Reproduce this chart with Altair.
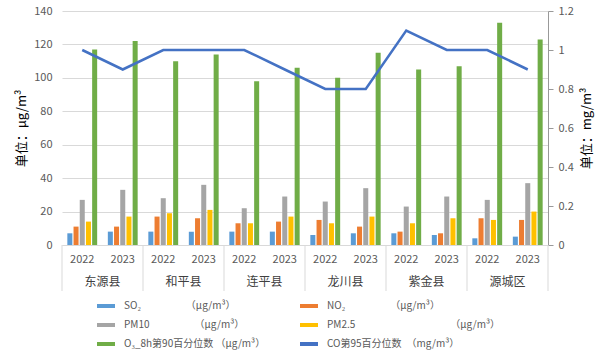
import altair as alt
import pandas as pd

counties = ["东源县", "和平县", "连平县", "龙川县", "紫金县", "源城区"]
years = ["2022", "2023"]
so2 = [7, 8, 8, 8, 8, 8, 6, 7, 7, 6, 4, 5]
no2 = [11, 11, 17, 16, 13, 14, 15, 11, 8, 7, 16, 15]
pm10 = [27, 33, 28, 36, 22, 29, 26, 34, 23, 29, 27, 37]
pm25 = [14, 17, 19, 21, 13, 17, 13, 17, 13, 16, 15, 20]
o3 = [117, 122, 110, 114, 98, 106, 100, 115, 105, 107, 133, 123]
co = [1.0, 0.9, 1.0, 1.0, 1.0, 0.9, 0.8, 0.8, 1.1, 1.0, 1.0, 0.9]
series_names = ["SO₂", "NO₂", "PM10", "PM2.5", "O₃_8h第90百分位数", "CO第95百分位数"]
colors = ["#5B9BD5", "#ED7D31", "#A5A5A5", "#FFC000", "#70AD47", "#4472C4"]
legend_labels = {
    "SO₂": "SO₂\u3000\u3000\u3000\u3000\u2002（μg/m³）",
    "NO₂": "NO₂\u3000\u3000\u3000\u3000\u2002（μg/m³）",
    "PM10": "PM10\u3000\u3000\u3000\u3000\u2002（μg/m³）",
    "PM2.5": "PM2.5\u3000\u3000\u3000\u3000\u3000\u3000\u3000\u3000\u3000\u2002（μg/m³）",
    "O₃_8h第90百分位数": "O₃_8h第90百分位数 （μg/m³）",
    "CO第95百分位数": "CO第95百分位数\u3000（mg/m³）",
}

FONT = "Noto Sans CJK SC"

keys = [f"{c}|{y}" for c in counties for y in years]
bar_series = [so2, no2, pm10, pm25, o3]
rows = []
for si, vals in enumerate(bar_series):
    for k, v in zip(keys, vals):
        rows.append({"key": k, "series": series_names[si], "value": v})
bar_df = pd.DataFrame(rows)
co_df = pd.DataFrame({"key": keys, "co": co, "series": series_names[5]})
county_df = pd.DataFrame({"county": counties, "key": [f"{c}|2022" for c in counties]})
sep_df = pd.DataFrame({"key": [f"{c}|2022" for c in counties]})
sep_end_df = pd.DataFrame({"key": [keys[-1]]})

x_scale = alt.Scale(type="band", domain=keys, paddingInner=0, paddingOuter=0)
color_scale = alt.Scale(domain=series_names, range=colors)

expr = ""
for name, lab in legend_labels.items():
    expr += f"datum.label === '{name}' ? '{lab}' : "
expr += "datum.label"

x_axis = alt.Axis(labelExpr="split(datum.label, '|')[1]", labelAngle=0, title=None,
                  ticks=False, domainColor="#d9d9d9", grid=False, labelOverlap=False,
                  labelFont=FONT, labelFontSize=11, labelColor="#595959",
                  labelPadding=8)

legend = alt.Legend(
    orient="none", legendX=33, legendY=284, columns=2, direction="horizontal",
    title=None, symbolType="stroke", symbolSize=324,
    symbolStrokeWidth=4, labelFont=FONT, labelFontSize=10,
    labelColor="#595959", labelLimit=0, labelOffset=7,
    columnPadding=26, rowPadding=0, labelExpr=expr,
)

bars = alt.Chart(bar_df).mark_bar().encode(
    x=alt.X("key:N", scale=x_scale, title=None, axis=x_axis),
    xOffset=alt.XOffset("series:N", scale=alt.Scale(domain=series_names[:5],
                                                    paddingInner=0.19, paddingOuter=0.86)),
    y=alt.Y("value:Q", scale=alt.Scale(domain=[0, 140]),
            axis=alt.Axis(orient="left", values=list(range(0, 141, 20)), title="单位：μg/m³",
                          domain=False, ticks=False, tickSize=0, labelPadding=10,
                          gridColor="#d9d9d9", labelFont=FONT, labelFontSize=11,
                          labelColor="#595959", titleFont=FONT, titleFontSize=13,
                          titleFontWeight="normal", titleColor="#000000", titlePadding=5)),
    color=alt.Color("series:N", scale=color_scale, legend=legend),
)

line = alt.Chart(co_df).mark_line(strokeWidth=2.5).encode(
    x=alt.X("key:N", scale=x_scale, title=None, axis=x_axis),
    y=alt.Y("co:Q", scale=alt.Scale(domain=[0, 1.2]),
            axis=alt.Axis(orient="right", values=[0, 0.2, 0.4, 0.6, 0.8, 1.0, 1.2], format="~g",
                          title="单位：mg/m³", grid=False, domainColor="#999999",
                          tickColor="#999999", tickSize=5, labelPadding=5,
                          labelFont=FONT, labelFontSize=11, labelColor="#595959",
                          titleFont=FONT, titleFontSize=13, titleFontWeight="normal",
                          titleColor="#000000", titleAngle=270, titleBaseline="top",
                          titlePadding=7)),
    color=alt.Color("series:N", scale=color_scale, legend=legend),
)

county_text = alt.Chart(county_df).mark_text(font=FONT, fontSize=12, color="#404040",
                                             baseline="middle").encode(
    x=alt.X("key:N", scale=x_scale, bandPosition=1, title=None, axis=x_axis),
    y=alt.value(271),
    text="county:N",
)

sep = alt.Chart(sep_df).mark_rule(color="#d9d9d9").encode(
    x=alt.X("key:N", scale=x_scale, bandPosition=0, title=None, axis=x_axis),
    y=alt.value(234), y2=alt.value(280),
)
sep_end = alt.Chart(sep_end_df).mark_rule(color="#d9d9d9").encode(
    x=alt.X("key:N", scale=x_scale, bandPosition=1, title=None, axis=x_axis),
    y=alt.value(234), y2=alt.value(280),
)

chart = alt.layer(bars, line, county_text, sep, sep_end).resolve_scale(
    y="independent"
).properties(
    width=486, height=234,
    autosize=alt.AutoSizeParams(type="none"),
    padding={"left": 62, "top": 11, "right": 63, "bottom": 106},
).configure_view(stroke=None)

chart.save("out.html", embed_options={"renderer": "svg", "actions": False})
